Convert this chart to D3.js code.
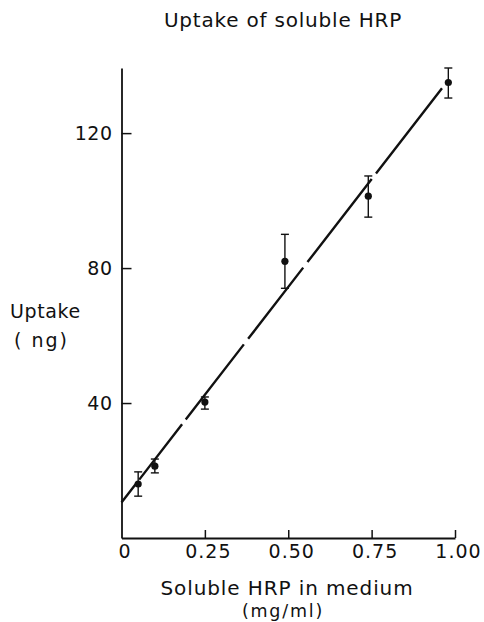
<!DOCTYPE html>
<html>
<head>
<meta charset="utf-8">
<script src="https://cdn.jsdelivr.net/npm/d3@7"></script>
<style>
  html, body { margin: 0; padding: 0; background: #fff; }
  svg text { font-family: "DejaVu Sans", sans-serif; fill: #111; }
</style>
</head>
<body>
<svg id="chart" width="484" height="622"></svg>
<script>
// Data
const concentration = [0.05, 0.10, 0.25, 0.49, 0.74, 0.98];   // mg/ml
const uptake        = [16.0, 21.3, 40.3, 82.0, 101.3, 135.0]; // ng
const errUpper      = [19.6, 23.4, 41.8, 90.0, 107.3, 139.3];
const errLower      = [12.4, 19.3, 38.2, 74.0, 95.1, 130.4];
const fitIntercept  = 10.5;   // regression line
const fitSlope      = 127.8;
const fitRange      = [0, 0.961];
const xTickValues   = [0, 0.25, 0.50, 0.75, 1.00];
const xTickLabels   = ["0", "0.25", "0.50", "0.75", "1.00"];
const yTickValues   = [40, 80, 120];

const svg = d3.select("#chart");
const x = d3.scaleLinear().domain([0, 1]).range([121.5, 455]);
const y = d3.scaleLinear().domain([0, 139.3]).range([538, 68]);

// Title
svg.append("text").attr("x", 283).attr("y", 27).attr("text-anchor", "middle")
  .attr("font-size", 20).attr("letter-spacing", 0.8).text("Uptake of soluble HRP");

// Y axis
const yAxis = svg.append("g").attr("transform", `translate(${x(0)},0)`)
  .call(d3.axisLeft(y).tickValues(yTickValues).tickSizeInner(-10).tickSizeOuter(0).tickPadding(9)
    .tickFormat(d3.format("d")));
yAxis.select(".domain").attr("stroke", "#111").attr("stroke-width", 1.8);
yAxis.selectAll(".tick line").attr("stroke", "#111").attr("stroke-width", 1.5);
yAxis.selectAll(".tick text").attr("font-size", 19).attr("letter-spacing", 0.5).style("font-family", "DejaVu Sans").attr("fill", "#111");

// X axis
const xAxis = svg.append("g").attr("transform", `translate(0,${y(0)})`)
  .call(d3.axisBottom(x).tickValues(xTickValues).tickSizeInner(-8).tickSizeOuter(0).tickPadding(7)
    .tickFormat((d, i) => xTickLabels[i]));
xAxis.select(".domain").attr("stroke", "#111").attr("stroke-width", 1.8);
xAxis.selectAll(".tick line").attr("stroke", "#111").attr("stroke-width", 1.5)
  .filter(d => d === 0).remove();
xAxis.selectAll(".tick text").attr("font-size", 19).attr("letter-spacing", 1).attr("dx", 3)
  .style("font-family", "DejaVu Sans").attr("fill", "#111");

// Axis titles
svg.append("text").attr("x", 287).attr("y", 595).attr("text-anchor", "middle")
  .attr("font-size", 20).attr("letter-spacing", 0.9).text("Soluble HRP in medium");
svg.append("text").attr("x", 283).attr("y", 617).attr("text-anchor", "middle")
  .attr("font-size", 17.5).attr("letter-spacing", 1.8).text("(mg/ml)");
svg.append("text").attr("x", 10).attr("y", 318).attr("font-size", 19)
  .attr("letter-spacing", 0.6).text("Uptake");
svg.append("text").attr("x", 14).attr("y", 347).attr("font-size", 19)
  .attr("letter-spacing", 2).attr("xml:space", "preserve").style("white-space", "pre").text("( ng)");

// Fitted line (dashed)
svg.append("line")
  .attr("x1", x(fitRange[0])).attr("y1", y(fitIntercept + fitSlope * fitRange[0]))
  .attr("x2", x(fitRange[1])).attr("y2", y(fitIntercept + fitSlope * fitRange[1]))
  .attr("stroke", "#111").attr("stroke-width", 2.4)
  .attr("stroke-dasharray", "24,5,70,6,95,7,90,7,105,7,120,6");

// Error bars
const eb = svg.append("g").attr("stroke", "#111").attr("stroke-width", 1.4);
concentration.forEach((c, i) => {
  const cx = x(c);
  eb.append("line").attr("x1", cx).attr("x2", cx).attr("y1", y(errUpper[i])).attr("y2", y(errLower[i]));
  eb.append("line").attr("x1", cx - 4).attr("x2", cx + 4).attr("y1", y(errUpper[i])).attr("y2", y(errUpper[i]));
  eb.append("line").attr("x1", cx - 4).attr("x2", cx + 4).attr("y1", y(errLower[i])).attr("y2", y(errLower[i]));
});

// Points
svg.append("g").selectAll("circle").data(concentration).join("circle")
  .attr("cx", d => x(d)).attr("cy", (d, i) => y(uptake[i])).attr("r", 3.6).attr("fill", "#111");
</script>
</body>
</html>
